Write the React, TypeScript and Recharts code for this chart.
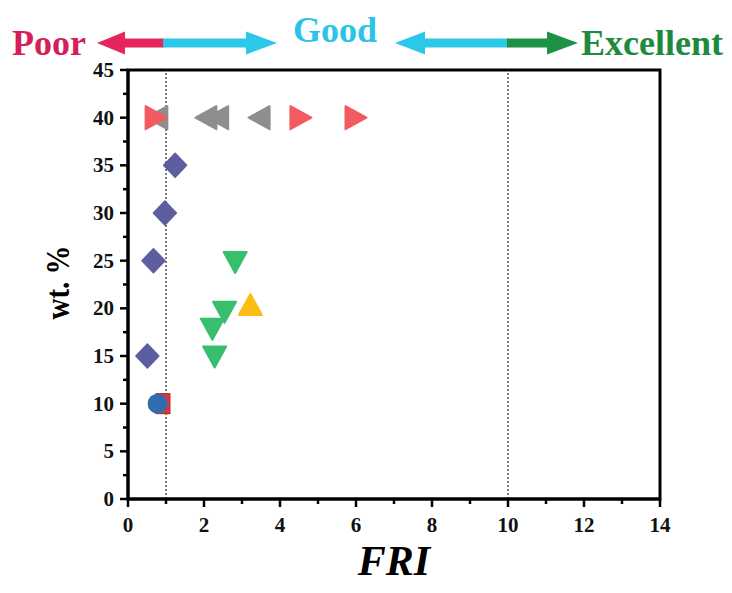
import React from 'react';
import { ScatterChart, Scatter, XAxis, YAxis, ReferenceLine, ReferenceArea, Label } from 'recharts';

// axis ticks (minor + major)
const X_TICKS = [0, 1, 2, 3, 4, 5, 6, 7, 8, 9, 10, 11, 12, 13, 14];
const X_MAJOR = [0, 2, 4, 6, 8, 10, 12, 14];
const Y_TICKS = [0, 2.5, 5, 7.5, 10, 12.5, 15, 17.5, 20, 22.5, 25, 27.5, 30, 32.5, 35, 37.5, 40, 42.5, 45];
const Y_MAJOR = [0, 5, 10, 15, 20, 25, 30, 35, 40, 45];

// FRI limits (poor / good / excellent)
const LIMITS = [1, 10];

// series
const grayLeft = [
  { x: 0.76, y: 40 },
  { x: 2.05, y: 40 },
  { x: 2.36, y: 40 },
  { x: 3.45, y: 40 },
];
const redRight = [
  { x: 0.74, y: 40 },
  { x: 4.55, y: 40 },
  { x: 6.0, y: 40 },
];
const purpleDiamond = [
  { x: 1.24, y: 35 },
  { x: 0.97, y: 30 },
  { x: 0.67, y: 25 },
  { x: 0.51, y: 15 },
];
const greenDown = [
  { x: 2.82, y: 24.8 },
  { x: 2.54, y: 19.6 },
  { x: 2.22, y: 17.8 },
  { x: 2.28, y: 14.9 },
];
const yellowUp = [{ x: 3.22, y: 20.4 }];
const redSquare = [{ x: 0.92, y: 10 }];
const blueCircle = [{ x: 0.78, y: 10 }];

const FONT = 'Liberation Serif, Tinos, Times New Roman, serif';

const tri = (dir: string, fill: string, w: number, h: number) => (p: any) => {
  const { cx, cy } = p;
  let pts = '';
  if (dir === 'right') pts = `${cx - w / 2},${cy - h / 2} ${cx + w / 2},${cy} ${cx - w / 2},${cy + h / 2}`;
  if (dir === 'left') pts = `${cx + w / 2},${cy - h / 2} ${cx - w / 2},${cy} ${cx + w / 2},${cy + h / 2}`;
  if (dir === 'up') pts = `${cx - w / 2},${cy + h / 2} ${cx},${cy - h / 2} ${cx + w / 2},${cy + h / 2}`;
  if (dir === 'down') pts = `${cx - w / 2},${cy - h / 2} ${cx},${cy + h / 2} ${cx + w / 2},${cy - h / 2}`;
  return <polygon points={pts} fill={fill} stroke={fill} strokeWidth={2} strokeLinejoin="round" />;
};

const diamond = (fill: string) => (p: any) => {
  const { cx, cy } = p;
  return (
    <polygon
      points={`${cx},${cy - 12} ${cx + 11.5},${cy} ${cx},${cy + 12} ${cx - 11.5},${cy}`}
      fill={fill}
      stroke={fill}
      strokeWidth={1.5}
      strokeLinejoin="round"
    />
  );
};

const bar = (fill: string) => (p: any) => (
  <rect x={p.cx - 7} y={p.cy - 10} width={14} height={20} fill={fill} stroke="#b02020" strokeWidth={1} />
);

const circle = (fill: string) => (p: any) => <circle cx={p.cx} cy={p.cy} r={10} fill={fill} />;

const XTick = (props: any) => {
  const { x, y, payload } = props;
  const major = X_MAJOR.includes(payload.value);
  return (
    <g>
      <line x1={x} x2={x} y1={y} y2={y + (major ? 8 : 5)} stroke="#000" strokeWidth={2.5} />
      {major && (
        <text x={x} y={y + 33} textAnchor="middle" style={{ fontFamily: FONT }} fontWeight="bold" fontSize={21} fill="#111">
          {payload.value}
        </text>
      )}
    </g>
  );
};

const YTick = (props: any) => {
  const { x, y, payload } = props;
  const major = Y_MAJOR.includes(payload.value);
  return (
    <g>
      <line x1={x - (major ? 8 : 5)} x2={x} y1={y} y2={y} stroke="#000" strokeWidth={2.5} />
      {major && (
        <text x={x - 14} y={y + 7} textAnchor="end" style={{ fontFamily: FONT }} fontWeight="bold" fontSize={21} fill="#111">
          {payload.value}
        </text>
      )}
    </g>
  );
};

const Arrow = ({ tip, base, end, y, color }: any) => {
  // head from tip to base, shaft from base to end
  const hh = 11.5;
  const sh = 4.5;
  const shaftX = Math.min(base, end);
  return (
    <g>
      <rect x={shaftX} y={y - sh} width={Math.abs(end - base)} height={sh * 2} fill={color} />
      <polygon points={`${tip},${y} ${base},${y - hh} ${base},${y + hh}`} fill={color} />
    </g>
  );
};

const Annotations = () => (
  <svg width={732} height={70} style={{ position: 'absolute', left: 0, top: 0, fontFamily: FONT }}>
    <text x={12} y={55} fontWeight="bold" fontSize={36} fill="#D41F58">
      Poor
    </text>
    <Arrow tip={97} base={125} end={164} y={43} color="#E5265E" />
    <Arrow tip={277} base={246} end={163} y={43} color="#2CC8EA" />
    <text x={293} y={42} fontWeight="bold" fontSize={36} fill="#2BC4E6">
      Good
    </text>
    <Arrow tip={395} base={425} end={508} y={43} color="#2CC8EA" />
    <Arrow tip={578} base={547} end={507} y={43} color="#1F9147" />
    <text x={581} y={55} fontWeight="bold" fontSize={36} fill="#1E8A3E">
      Excellent
    </text>
  </svg>
);

export default function App() {
  return (
    <div style={{ position: 'absolute', left: 0, top: 0, width: 732, height: 593, background: '#fff', fontFamily: FONT }}>
      <ScatterChart width={732} height={593} margin={{ top: 70, right: 72, bottom: 34, left: 0 }}>
        <XAxis
          type="number"
          dataKey="x"
          domain={[0, 14]}
          ticks={X_TICKS}
          interval={0}
          tickSize={0}
          tickMargin={0}
          tickLine={false}
          tick={<XTick />}
          axisLine={{ stroke: '#000', strokeWidth: 3 }}
          height={60}
        >
          <Label
            content={(p: any) => (
              <text
                x={p.viewBox.x + p.viewBox.width / 2}
                y={p.viewBox.y + 76}
                textAnchor="middle"
                style={{ fontFamily: FONT }}
                fontWeight="bold"
                fontStyle="italic"
                fontSize={42}
                fill="#000"
              >
                FRI
              </text>
            )}
          />
        </XAxis>
        <YAxis
          type="number"
          dataKey="y"
          domain={[0, 45]}
          ticks={Y_TICKS}
          interval={0}
          tickSize={0}
          tickMargin={0}
          tickLine={false}
          tick={<YTick />}
          axisLine={{ stroke: '#000', strokeWidth: 3 }}
          width={128}
        >
          <Label
            content={(p: any) => {
              const cx = p.viewBox.x + 58;
              const cy = p.viewBox.y + p.viewBox.height / 2 - 2;
              return (
                <text
                  x={cx}
                  y={cy}
                  transform={`rotate(-90 ${cx} ${cy})`}
                  textAnchor="middle"
                  dominantBaseline="central"
                  style={{ fontFamily: FONT }}
                  fontWeight="bold"
                  fontSize={33}
                  fill="#000"
                  textLength={74}
                  lengthAdjust="spacingAndGlyphs"
                >
                  wt. %
                </text>
              );
            }}
          />
        </YAxis>
        <ReferenceArea x1={0} x2={14} y1={0} y2={45} fill="none" stroke="#000" strokeWidth={3} ifOverflow="visible" />
        <Scatter data={grayLeft} shape={tri('left', '#8E8E8E', 21, 23)} isAnimationActive={false} />
        <Scatter data={redRight} shape={tri('right', '#F25B5F', 21, 23)} isAnimationActive={false} />
        <Scatter data={purpleDiamond} shape={diamond('#5D5E9F')} isAnimationActive={false} />
        <Scatter data={greenDown} shape={tri('down', '#38BF6D', 23, 21)} isAnimationActive={false} />
        <Scatter data={yellowUp} shape={tri('up', '#FDBD14', 23, 21)} isAnimationActive={false} />
        <Scatter data={redSquare} shape={bar('#E0353A')} isAnimationActive={false} />
        <Scatter data={blueCircle} shape={circle('#2F6DAE')} isAnimationActive={false} />
        {LIMITS.map((v) => (
          <ReferenceLine key={v} x={v} stroke="#333" strokeWidth={1.3} strokeDasharray="2 2" />
        ))}
      </ScatterChart>
      <Annotations />
    </div>
  );
}
